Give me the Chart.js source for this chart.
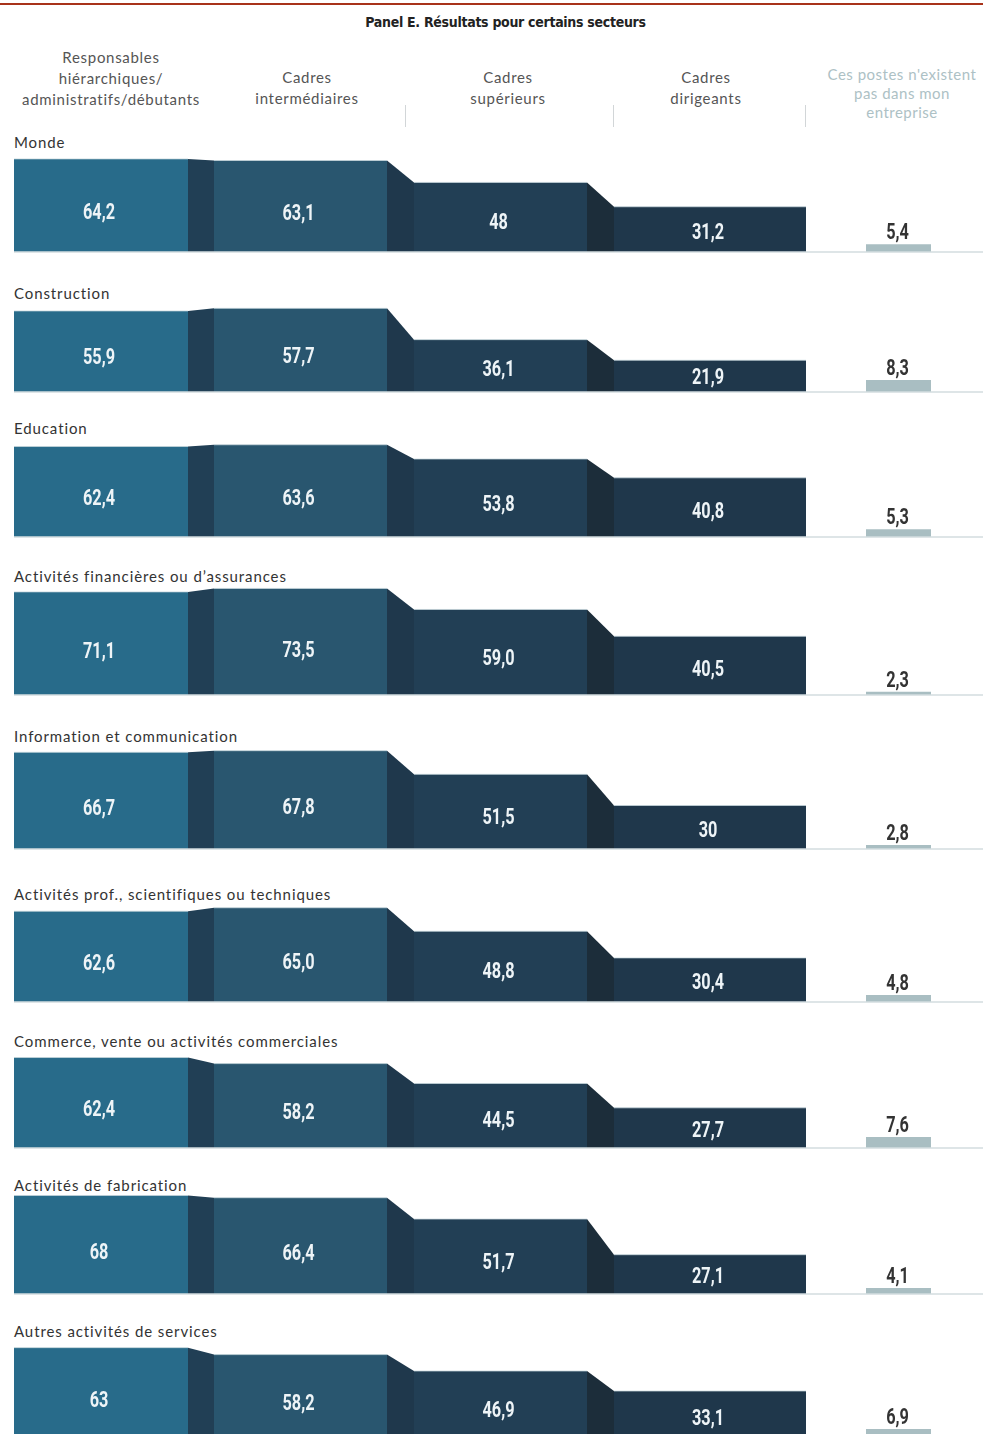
<!DOCTYPE html>
<html lang="fr">
<head>
<meta charset="utf-8">
<title>Panel E. Résultats pour certains secteurs</title>
<script src="https://cdn.jsdelivr.net/npm/chart.js@4.4.1/dist/chart.umd.min.js"></script>
<style>
  html, body { margin: 0; padding: 0; background: #fff; width: 983px; height: 1434px; overflow: hidden; }
  #page { position: relative; width: 983px; height: 1434px; }
  .rule { position: absolute; left: 0; top: 3px; width: 983px; height: 2px; background: #a8321a; }
  .title { position: absolute; left: 0; width: 983px; top: 14px; text-align: center;
           font: bold 14px "DejaVu Sans Condensed", sans-serif; letter-spacing: -0.3px; color: #222;
           padding-left: 28px; box-sizing: border-box; }
  .head { position: absolute; width: 210px; text-align: center; font: 15px Lato, sans-serif;
          letter-spacing: 0.7px; color: #555; line-height: 21px; }
  .head.muted { color: #adc1c5; line-height: 19px; letter-spacing: 0.5px; }
  .sep { position: absolute; top: 105px; width: 1px; height: 22px; background: #d2d6d8; }
  .sector { position: absolute; left: 14px; font: 15px Lato, sans-serif; letter-spacing: 0.9px; color: #333; line-height: 18px; }
  canvas.panel { position: absolute; left: 0; }
</style>
</head>
<body>
<div id="page">
  <div class="rule"></div>
  <div class="title">Panel E. Résultats pour certains secteurs</div>
</div>
<script>
// Column headers (levels of management) and the extra "positions do not exist" column
const levels = [
  ["Responsables", "hiérarchiques/", "administratifs/débutants"],
  ["Cadres", "intermédiaires"],
  ["Cadres", "supérieurs"],
  ["Cadres", "dirigeants"]
];
const absentLabel = ["Ces postes n'existent", "pas dans mon", "entreprise"];

// Sectors and their values (percent, French decimal comma as printed)
const sectors = [
  "Monde",
  "Construction",
  "Education",
  "Activités financières ou d’assurances",
  "Information et communication",
  "Activités prof., scientifiques ou techniques",
  "Commerce, vente ou activités commerciales",
  "Activités de fabrication",
  "Autres activités de services"
];
const entryLevel   = ["64,2", "55,9", "62,4", "71,1", "66,7", "62,6", "62,4", "68",   "63"];
const middleMgmt   = ["63,1", "57,7", "63,6", "73,5", "67,8", "65,0", "58,2", "66,4", "58,2"];
const seniorMgmt   = ["48",   "36,1", "53,8", "59,0", "51,5", "48,8", "44,5", "51,7", "46,9"];
const executives   = ["31,2", "21,9", "40,8", "40,5", "30",   "30,4", "27,7", "27,1", "33,1"];
const notPresent   = ["5,4",  "8,3",  "5,3",  "2,3",  "2,8",  "4,8",  "7,6",  "4,1",  "6,9"];

const num = s => parseFloat(s.replace(",", "."));

// ---- layout ----
const W = 983;
const PX_PER_UNIT = 1.45;            // vertical scale shared by every panel
const X_LEFT = 14, SLOT = 200;       // one x unit = one column slot
const X_MAX = (W - X_LEFT) / SLOT;
const titleY    = [142, 293, 428, 576, 736, 894, 1041, 1185, 1331];
const baselineY = [252, 392, 537, 695, 849, 1002, 1148, 1294, 1439];
const barSpans  = [[0, 0.87], [1, 1.865], [2, 2.865], [3, 3.96]];
const absentSpan = [4.26, 4.585];
const barColors  = ["#286b8a", "#29566f", "#223f55", "#1f374b"];
const linkColors = ["#213f55", "#1f384c", "#1c2d3a"];
const absentColor = "#a9bec2";
const NUM_FONT = "bold 22px Roboto, 'DejaVu Sans Condensed', sans-serif";
const NUM_SQUEEZE = 0.74;            // condensed look for the figures

const page = document.getElementById("page");

// header texts
const headCenters = [111, 307, 508, 706];
levels.forEach((lines, i) => {
  const d = document.createElement("div");
  d.className = "head";
  d.style.left = (headCenters[i] - 105) + "px";
  d.style.top = (lines.length === 3 ? 47 : 67) + "px";
  d.innerHTML = lines.join("<br>");
  page.appendChild(d);
});
{
  const d = document.createElement("div");
  d.className = "head muted";
  d.style.left = (902 - 105) + "px";
  d.style.top = "65px";
  d.innerHTML = absentLabel.join("<br>");
  page.appendChild(d);
}
[405, 613, 805].forEach(x => {
  const s = document.createElement("div");
  s.className = "sep";
  s.style.left = x + "px";
  page.appendChild(s);
});

function squeezedText(ctx, text, cx, cy) {
  ctx.save();
  ctx.translate(cx, cy);
  ctx.scale(NUM_SQUEEZE, 1);
  ctx.fillText(text, 0, 0);
  ctx.restore();
}

// value labels drawn through the chart scales
const valueLabels = {
  id: "valueLabels",
  afterDatasetsDraw(chart) {
    const { ctx, scales: { x, y } } = chart;
    const { values, texts } = chart.options.plugins.valueLabels;
    ctx.save();
    ctx.textAlign = "center";
    ctx.font = NUM_FONT;
    values.forEach((v, i) => {
      if (i < 4) {
        const [a, b] = barSpans[i];
        ctx.fillStyle = "#eef4f7";
        ctx.textBaseline = "middle";
        squeezedText(ctx, texts[i], x.getPixelForValue((a + b) / 2) - 2, y.getPixelForValue(v * 0.41));
      } else {
        ctx.fillStyle = "#333";
        ctx.textBaseline = "alphabetic";
        squeezedText(ctx, texts[i], x.getPixelForValue((absentSpan[0] + absentSpan[1]) / 2) - 1,
                     y.getPixelForValue(v) - 5);
      }
    });
    ctx.restore();
  }
};

sectors.forEach((name, k) => {
  const t = document.createElement("div");
  t.className = "sector";
  t.style.top = (titleY[k] - 9) + "px";
  t.textContent = name;
  page.appendChild(t);

  const texts = [entryLevel[k], middleMgmt[k], seniorMgmt[k], executives[k], notPresent[k]];
  const vals = texts.map(num);

  const top = titleY[k] + 10;
  const plotH = baselineY[k] - top;
  const padBottom = 3;
  const yMax = plotH / PX_PER_UNIT;

  const canvas = document.createElement("canvas");
  canvas.className = "panel";
  canvas.width = W;
  canvas.height = plotH + padBottom;
  canvas.style.top = top + "px";
  page.appendChild(canvas);

  const datasets = [];
  // baseline
  datasets.push({
    data: [{ x: 0, y: 0 }, { x: X_MAX, y: 0 }],
    borderColor: "#d3dcdf", borderWidth: 1.5, fill: false, clip: false, order: 0
  });
  // bars
  for (let i = 0; i < 4; i++) {
    const [a, b] = barSpans[i];
    datasets.push({
      data: [{ x: a, y: vals[i] }, { x: b, y: vals[i] }],
      backgroundColor: barColors[i], borderColor: "rgba(200,216,222,0.75)", borderWidth: 1,
      fill: "origin", clip: false, order: 2
    });
  }
  // connecting slopes between consecutive bars
  for (let i = 0; i < 3; i++) {
    datasets.push({
      data: [{ x: barSpans[i][1], y: vals[i] }, { x: barSpans[i + 1][0], y: vals[i + 1] }],
      backgroundColor: linkColors[i], borderColor: linkColors[i], borderWidth: 0,
      fill: "origin", clip: false, order: 3
    });
  }
  // "positions do not exist" bar
  datasets.push({
    data: [{ x: absentSpan[0], y: vals[4] }, { x: absentSpan[1], y: vals[4] }],
    backgroundColor: absentColor, borderColor: absentColor, borderWidth: 0,
    fill: "origin", clip: false, order: 2
  });

  new Chart(canvas, {
    type: "line",
    data: { datasets },
    options: {
      responsive: false,
      animation: false,
      devicePixelRatio: 1,
      layout: { padding: { left: 0, right: 0, top: 0, bottom: padBottom } },
      elements: { point: { radius: 0, hoverRadius: 0 }, line: { tension: 0 } },
      scales: {
        x: { type: "linear", display: false, min: -X_LEFT / SLOT, max: X_MAX },
        y: { type: "linear", display: false, min: 0, max: yMax }
      },
      plugins: {
        legend: { display: false },
        tooltip: { enabled: false },
        valueLabels: { values: vals, texts }
      },
      events: []
    },
    plugins: [valueLabels]
  });
});
</script>
</body>
</html>
